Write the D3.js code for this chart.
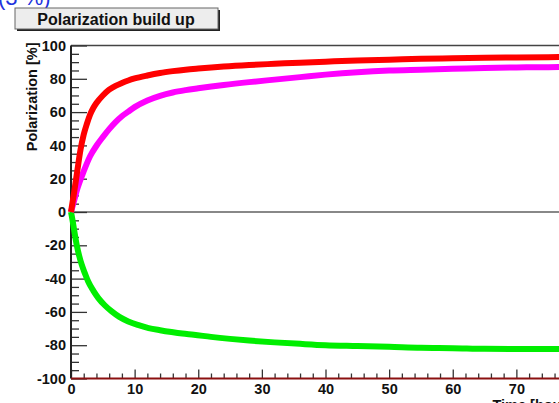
<!DOCTYPE html>
<html>
<head>
<meta charset="utf-8">
<script src="https://cdn.jsdelivr.net/npm/d3@7"></script>
<style>
  html, body { margin: 0; padding: 0; background: #fff; overflow: hidden; }
  svg { display: block; font-family: "Liberation Sans", Arial, sans-serif; }
</style>
</head>
<body>
<svg id="chart" width="559" height="403"></svg>
<script>
// ---- data ----
const title = "Polarization build up";
const yTitle = "Polarization [%]";
const xTitle = "Time [hours]";
const headerText = "(3 %)";

const xMajorTicks = [0, 10, 20, 30, 40, 50, 60, 70, 80];
const yMajorTicks = [-100, -80, -60, -40, -20, 0, 20, 40, 60, 80, 100];

const redT = [0, 0.5, 1, 1.5, 2, 2.5, 3, 3.5, 4, 5, 6, 7, 8, 9, 10, 12, 14, 16, 18, 20, 24, 28, 32, 36, 40, 45, 50, 55, 60, 65, 70, 75, 80];
const redP = [0, 12, 25, 37.5, 46.5, 53, 58.5, 62.5, 65.5, 70, 73.5, 75.8, 77.5, 79, 80.2, 82, 83.5, 84.6, 85.5, 86.2, 87.4, 88.3, 89, 89.7, 90.3, 91, 91.5, 92, 92.3, 92.6, 92.8, 93, 93.2];

const magT = [0, 0.5, 1, 2, 3, 4, 5, 6, 7, 8, 9, 10, 12, 14, 16, 18, 20, 24, 28, 32, 36, 40, 45, 50, 55, 60, 65, 70, 75, 80];
const magP = [0, 7, 14, 24.5, 33.5, 39.8, 45, 49.8, 54, 57.5, 60.3, 63, 67, 69.8, 71.8, 73.2, 74.3, 76.3, 78, 79.5, 81, 82.5, 84, 85, 85.5, 86, 86.5, 86.8, 87, 87.2];

const greenT = [0, 0.2, 0.5, 0.9, 1.3, 1.7, 2.2, 2.7, 3.5, 4.3, 5.3, 6.4, 7.6, 9, 10.5, 12.2, 14, 15.8, 17.5, 19.3, 22, 25, 28, 32, 36, 40, 45, 50, 55, 60, 65, 70, 75, 80];
const greenP = [0, -4, -11, -19.8, -26.5, -31.8, -37, -41.8, -47.2, -51.7, -56, -59.7, -63, -65.7, -67.8, -69.7, -71, -72.1, -73, -73.7, -75, -76.2, -77.2, -78.3, -79.2, -80, -80.5, -81, -81.6, -81.8, -82.2, -82.3, -82.3, -82.3];

// ---- layout ----
const plotLeft = 71, plotRight = 580, plotTop = 45.5, plotBottom = 378.5;
const svg = d3.select("#chart");

const x = d3.scaleLinear().domain([0, 80]).range([plotLeft, plotRight]);
const y = d3.scaleLinear().domain([-100, 100]).range([plotBottom, plotTop]);

const xMinor = d3.range(0, 81, 2).filter(v => v % 10 !== 0);
const yMinor = d3.range(-100, 101, 5).filter(v => v % 20 !== 0);

// blue header text (cropped at top)
svg.append("text").attr("x", -2).attr("y", 5)
  .attr("fill", "#2233dd").attr("font-size", 22)
  .text(headerText);

// title box
svg.append("rect").attr("x", 17).attr("y", 10).attr("width", 203).attr("height", 21).attr("fill", "#222");
svg.append("rect").attr("x", 15).attr("y", 8).attr("width", 203).attr("height", 21)
  .attr("fill", "#ededed").attr("stroke", "#666").attr("stroke-width", 1);
svg.append("text").attr("x", 116).attr("y", 24.5).attr("text-anchor", "middle")
  .attr("font-size", 16).attr("font-weight", "bold").attr("fill", "#111").text(title);

// frame top
svg.append("line").attr("x1", plotLeft).attr("x2", 600).attr("y1", plotTop).attr("y2", plotTop)
  .attr("stroke", "#444").attr("stroke-width", 1.5);

// zero line
svg.append("line").attr("x1", plotLeft).attr("x2", 600).attr("y1", y(0)).attr("y2", y(0))
  .attr("stroke", "#888").attr("stroke-width", 1.8);

const fmt = d => String(d);

// y axis minor ticks
const yMinorAxis = svg.append("g").attr("transform", `translate(${plotLeft},0)`)
  .call(d3.axisLeft(y).tickValues(yMinor).tickSize(-8).tickFormat(""));
// y axis major
const yAxis = svg.append("g").attr("transform", `translate(${plotLeft},0)`)
  .call(d3.axisLeft(y).tickValues(yMajorTicks).tickSize(-16).tickPadding(5).tickFormat(fmt));

// x axis minor
const xMinorAxis = svg.append("g").attr("transform", `translate(0,${plotBottom})`)
  .call(d3.axisBottom(x).tickValues(xMinor).tickSize(-5).tickFormat(""));
const xAxis = svg.append("g").attr("transform", `translate(0,${plotBottom})`)
  .call(d3.axisBottom(x).tickValues(xMajorTicks).tickSize(-9).tickPadding(5).tickFormat(fmt));

[yMinorAxis, yAxis, xMinorAxis, xAxis].forEach(g => {
  g.selectAll(".domain").remove();
  g.selectAll(".tick line").attr("stroke", "#333").attr("stroke-width", 1.3);
  g.selectAll("text").attr("font-size", 14.5).attr("font-weight", "bold").attr("fill", "#111")
    .attr("font-family", "'Liberation Sans', Arial, sans-serif");
});

// axis lines
svg.append("line").attr("x1", plotLeft).attr("x2", plotLeft).attr("y1", plotTop).attr("y2", plotBottom)
  .attr("stroke", "#222").attr("stroke-width", 2);
svg.append("line").attr("x1", plotLeft).attr("x2", 600).attr("y1", plotBottom).attr("y2", plotBottom)
  .attr("stroke", "#8b1010").attr("stroke-width", 2);

// curves
const line = d3.line().x(d => x(d[0])).y(d => y(d[1])).curve(d3.curveMonotoneX);
const series = [
  { t: greenT, p: greenP, color: "#00ee00" },
  { t: magT, p: magP, color: "#ff00ff" },
  { t: redT, p: redP, color: "#ff0000" }
];
series.forEach(s => {
  svg.append("path").datum(s.t.map((t, i) => [t, s.p[i]]))
    .attr("d", line).attr("fill", "none").attr("stroke", s.color)
    .attr("stroke-width", 6).attr("stroke-linecap", "butt");
});

// axis titles
svg.append("text").attr("transform", `translate(37,${plotTop - 3}) rotate(-90)`)
  .attr("text-anchor", "end").attr("font-size", 14.5).attr("font-weight", "bold").attr("fill", "#111")
  .text(yTitle);
svg.append("text").attr("x", plotRight).attr("y", 410).attr("text-anchor", "end")
  .attr("font-size", 14.5).attr("font-weight", "bold").attr("fill", "#111")
  .text(xTitle);
</script>
</body>
</html>
